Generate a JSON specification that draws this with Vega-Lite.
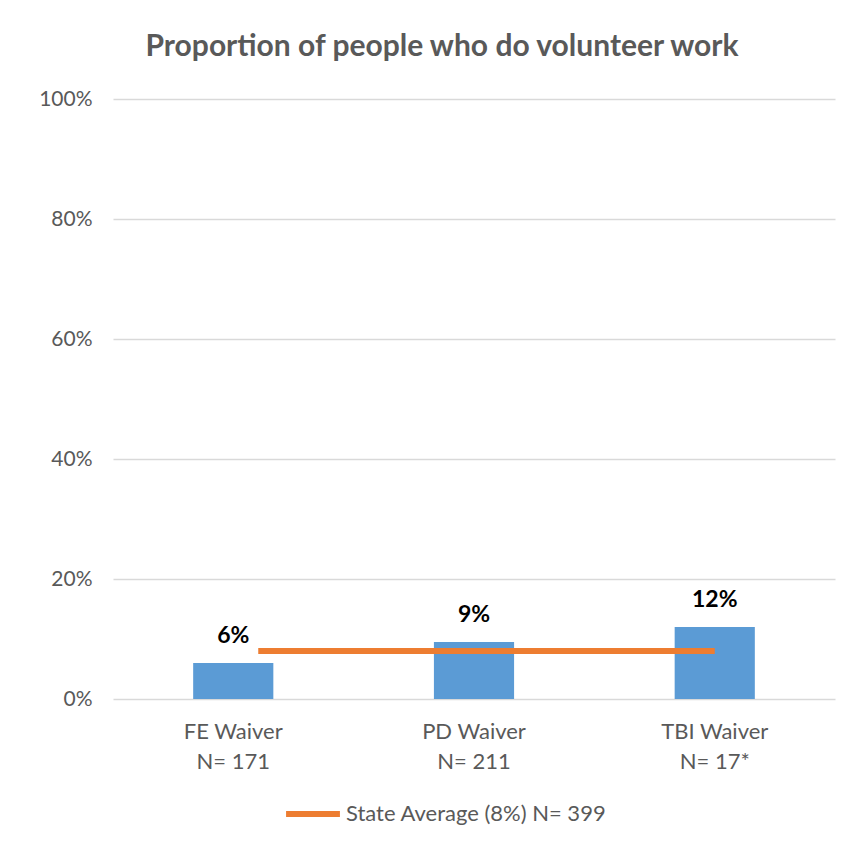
{
  "$schema": "https://vega.github.io/schema/vega-lite/v6.json",
  "autosize": {"type": "none"},
  "width": 722,
  "height": 600,
  "padding": {"left": 113, "top": 99, "right": 32, "bottom": 151},
  "background": "white",
  "title": {
    "text": "Proportion of people who do volunteer work",
    "font": "Lato",
    "fontSize": 30,
    "fontWeight": "bold",
    "color": "#595959",
    "anchor": "middle",
    "dx": -32,
    "offset": 26
  },
  "config": {
    "view": {"stroke": null},
    "font": "Lato"
  },
  "layer": [
    {
      "data": {"values": [
        {"group": "FE Waiver|N= 171", "value": 0.06, "label": "6%"},
        {"group": "PD Waiver|N= 211", "value": 0.095, "label": "9%"},
        {"group": "TBI Waiver|N= 17*", "value": 0.12, "label": "12%"}
      ]},
      "layer": [
        {
          "mark": {"type": "bar", "color": "#5B9BD5"},
          "encoding": {
            "x": {
              "field": "group", "type": "nominal", "sort": null,
              "scale": {"paddingInner": 0.667, "paddingOuter": 0.333},
              "axis": {
                "title": null, "labelAngle": 0, "ticks": false, "domain": false,
                "labelExpr": "split(datum.value, '|')",
                "labelFontSize": 22, "labelColor": "#595959", "labelFont": "Lato",
                "labelLineHeight": 30, "labelPadding": 22
              }
            },
            "y": {
              "field": "value", "type": "quantitative",
              "scale": {"domain": [0, 1]},
              "axis": {
                "title": null, "format": ".0%", "values": [0, 0.2, 0.4, 0.6, 0.8, 1],
                "ticks": false, "domain": false, "labelPadding": 21,
                "labelFontSize": 21, "labelColor": "#595959", "labelFont": "Lato",
                "gridColor": "#D9D9D9", "gridWidth": 1.5
              }
            }
          }
        },
        {
          "mark": {"type": "text", "font": "Lato", "fontSize": 23, "fontWeight": "bold", "color": "#000000", "baseline": "middle", "dy": -27},
          "encoding": {
            "x": {"field": "group", "type": "nominal", "sort": null},
            "y": {"field": "value", "type": "quantitative"},
            "text": {"field": "label"}
          }
        }
      ]
    },
    {
      "data": {"values": [
        {"series": "State Average (8%) N= 399", "value": 0.08, "start": "FE Waiver|N= 171", "end": "TBI Waiver|N= 17*"}
      ]},
      "mark": {"type": "rule", "strokeWidth": 6, "xOffset": 25},
      "encoding": {
        "x": {"field": "start", "type": "nominal", "sort": null},
        "x2": {"field": "end"},
        "y": {"field": "value", "type": "quantitative"},
        "color": {
          "field": "series", "type": "nominal",
          "scale": {"range": ["#ED7D31"]},
          "legend": {
            "title": null, "orient": "none", "legendX": 170, "legendY": 685,
            "symbolType": "stroke",
            "symbolSize": 2900, "symbolStrokeWidth": 6,
            "labelFontSize": 22, "labelColor": "#595959", "labelFont": "Lato",
            "labelOffset": 3, "labelLimit": 400
          }
        }
      }
    }
  ]
}
